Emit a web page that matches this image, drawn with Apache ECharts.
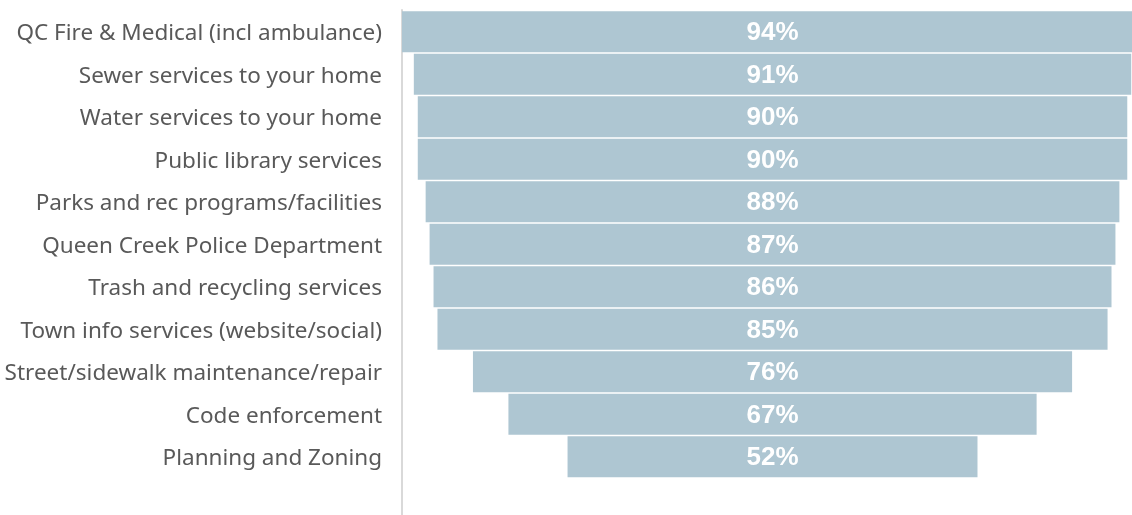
<!DOCTYPE html>
<html><head><meta charset="utf-8">
<script src="https://cdn.jsdelivr.net/npm/echarts@6/dist/echarts.min.js"></script>
<style>html,body{margin:0;padding:0;background:#fff}#c{width:1132px;height:515px}</style>
</head><body><div id="c"></div>
<script>
const categories = [
  'QC Fire & Medical (incl ambulance)',
  'Sewer services to your home',
  'Water services to your home',
  'Public library services',
  'Parks and rec programs/facilities',
  'Queen Creek Police Department',
  'Trash and recycling services',
  'Town info services (website/social)',
  'Street/sidewalk maintenance/repair',
  'Code enforcement',
  'Planning and Zoning'
];
const values = [94, 91, 90, 90, 88, 87, 86, 85, 76, 67, 52];
const maxValue = Math.max(...values);
const offsets = values.map(v => (maxValue - v) / 2);

const chart = echarts.init(document.getElementById('c'), null, {renderer: 'canvas'});
chart.setOption({
  animation: false,
  grid: [
    {left: 402, width: 730, top: 10.5, height: 467.5},
    {left: 402, width: 730, top: 10, bottom: 0}
  ],
  xAxis: [
    {type: 'value', min: 0, max: 92.6, show: false, gridIndex: 0},
    {type: 'value', min: 0, max: 1, show: false, gridIndex: 1}
  ],
  yAxis: [
    {
      type: 'category', data: categories, inverse: true, gridIndex: 0,
      axisTick: {show: false},
      axisLine: {show: false},
      axisLabel: {color: '#595959', fontSize: 22.5, fontFamily: 'Noto Sans', margin: 20,
                  formatter: '{a|{value}}',
                  rich: {a: {color: '#595959', fontSize: 22.5, fontFamily: 'Noto Sans', padding: [4, 0, 0, 0]}}}
    },
    {
      type: 'value', gridIndex: 1, min: 0, max: 1,
      axisTick: {show: false}, axisLabel: {show: false}, splitLine: {show: false},
      axisLine: {show: true, lineStyle: {color: '#d9d9d9', width: 2}}
    }
  ],
  series: [
    {type: 'bar', stack: 'f', data: offsets, itemStyle: {color: 'transparent'}, barWidth: 41, silent: true, clip: false},
    {type: 'bar', stack: 'f', data: values, barWidth: 41, clip: false,
     itemStyle: {color: '#aec6d2'},
     label: {show: true, position: 'inside', formatter: '{c}%', color: '#ffffff', offset: [0, 1.5],
             fontSize: 26, fontWeight: 'bold', fontFamily: 'Liberation Sans'}}
  ]
});
</script></body></html>
